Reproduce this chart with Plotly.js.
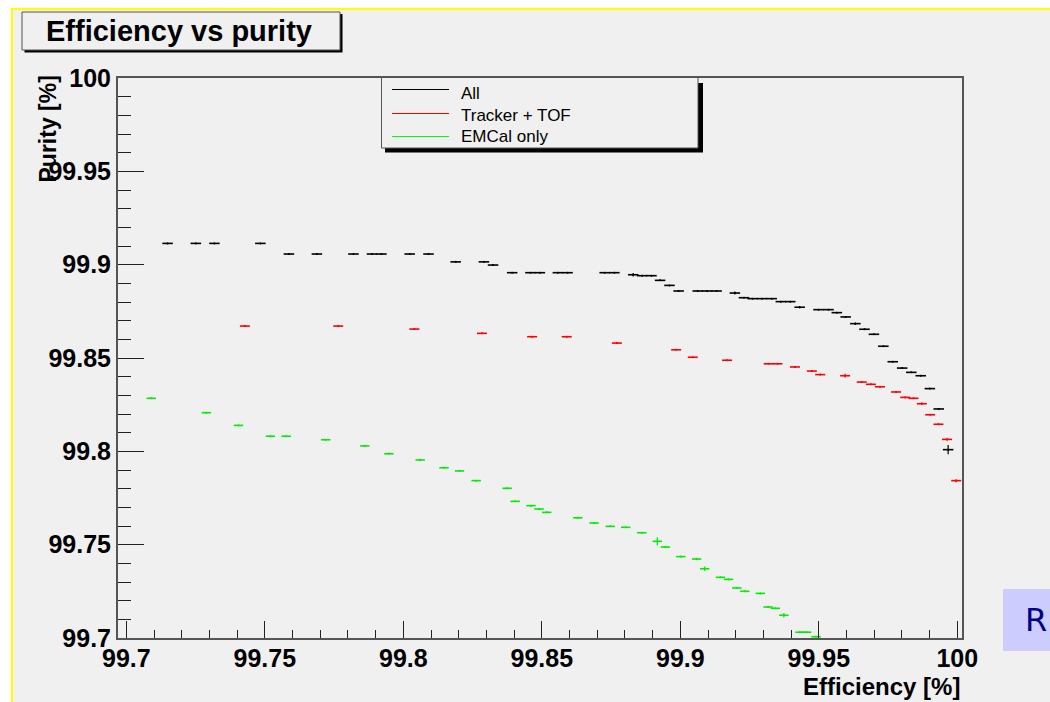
<!DOCTYPE html>
<html>
<head>
<meta charset="utf-8">
<script src="https://cdn.plot.ly/plotly-3.0.1.min.js"></script>
<style>html,body{margin:0;padding:0;background:#fff;}#chart{width:1050px;height:702px;}</style>
</head>
<body>
<div id="chart"></div>
<script>
// ---- data ----
const allEff = [99.7149,99.7251,99.7318,99.7484,99.7587,99.7688,99.7820,99.7887,99.7921,99.8023,
  99.8091,99.8189,99.8291,99.8324,99.8393,99.8459,99.8493,99.8558,99.8593,99.8727,
  99.8762,99.8830,99.8862,99.8896,99.8927,99.8961,99.8994,99.9063,99.9097,99.9131,
  99.9197,99.9230,99.9261,99.9295,99.9330,99.9363,99.9397,99.9431,99.9499,99.9535,
  99.9565,99.9597,99.9632,99.9665,99.9699,99.9733,99.9767,99.9801,99.9834,99.9868,
  99.9901,99.9933,99.9967];
const allPur = [99.9114,99.9114,99.9114,99.9114,99.9057,99.9057,99.9057,99.9057,99.9057,99.9057,
  99.9057,99.9015,99.9015,99.8998,99.8957,99.8957,99.8957,99.8957,99.8957,99.8957,
  99.8957,99.8946,99.8941,99.8941,99.8916,99.8889,99.8859,99.8859,99.8859,99.8859,
  99.8848,99.8823,99.8818,99.8818,99.8818,99.8802,99.8802,99.8772,99.8759,99.8759,
  99.8743,99.8720,99.8684,99.8654,99.8627,99.8563,99.8480,99.8446,99.8423,99.8405,
  99.8336,99.8227,99.8009];
const allPurErr = [0.0003,0.0003,0.0003,0.0003,0.0003,0.0003,0.0003,0.0003,0.0003,0.0003,
  0.0003,0.0003,0.0003,0.0003,0.0003,0.0003,0.0003,0.0003,0.0003,0.0003,
  0.0003,0.0010,0.0003,0.0003,0.0003,0.0003,0.0003,0.0003,0.0003,0.0003,
  0.0008,0.0003,0.0003,0.0003,0.0003,0.0003,0.0003,0.0006,0.0003,0.0003,
  0.0003,0.0003,0.0006,0.0004,0.0003,0.0003,0.0003,0.0003,0.0003,0.0003,
  0.0003,0.0003,0.0025];
const allEffErr = 0.0019;

const tofEff = [99.7428,99.7765,99.8040,99.8284,99.8465,99.8590,99.8771,99.8985,99.9045,99.9169,
  99.9319,99.9351,99.9414,99.9475,99.9505,99.9595,99.9655,99.9688,99.9721,99.9779,
  99.9812,99.9842,99.9872,99.9902,99.9932,99.9963,99.9996];
const tofPur = [99.8671,99.8671,99.8655,99.8632,99.8614,99.8614,99.8580,99.8544,99.8504,99.8488,
  99.8469,99.8469,99.8452,99.8430,99.8411,99.8405,99.8371,99.8359,99.8346,99.8318,
  99.8289,99.8284,99.8255,99.8196,99.8145,99.8064,99.7843];
const tofPurErr = [0.0003,0.0003,0.0003,0.0003,0.0003,0.0003,0.0003,0.0003,0.0003,0.0003,
  0.0003,0.0003,0.0003,0.0003,0.0003,0.0010,0.0004,0.0003,0.0004,0.0003,
  0.0003,0.0003,0.0006,0.0003,0.0004,0.0006,0.0008];
const tofEffErr = 0.0018;

const emcEff = [99.7090,99.7289,99.7405,99.7520,99.7577,99.7720,99.7861,99.7948,99.8061,99.8147,
  99.8203,99.8263,99.8375,99.8404,99.8461,99.8490,99.8518,99.8630,99.8689,99.8747,
  99.8803,99.8861,99.8917,99.8946,99.9002,99.9059,99.9088,99.9145,99.9174,99.9204,
  99.9233,99.9289,99.9317,99.9343,99.9374,99.9432,99.9456,99.9490];
const emcPur = [99.8284,99.8207,99.8139,99.8081,99.8081,99.8062,99.8029,99.7987,99.7954,99.7912,
  99.7895,99.7843,99.7802,99.7732,99.7709,99.7691,99.7673,99.7644,99.7616,99.7598,
  99.7593,99.7564,99.7518,99.7487,99.7436,99.7423,99.7371,99.7325,99.7314,99.7268,
  99.7250,99.7239,99.7166,99.7159,99.7122,99.7031,99.7031,99.7007];
const emcPurErr = [0.0003,0.0003,0.0003,0.0003,0.0003,0.0003,0.0003,0.0003,0.0003,0.0003,
  0.0003,0.0003,0.0003,0.0003,0.0003,0.0003,0.0003,0.0004,0.0003,0.0003,
  0.0003,0.0003,0.0022,0.0005,0.0003,0.0006,0.0012,0.0003,0.0004,0.0003,
  0.0003,0.0004,0.0004,0.0003,0.0012,0.0003,0.0003,0.0003];
const emcEffErr = 0.0017;

const seriesNames = ["All", "Tracker + TOF", "EMCal only"];
const seriesColors = ["#000000", "#ff0000", "#00ee00"];
const legendColors = ["#000000", "#ff0000", "#00ff00"];
const chartTitle = "Efficiency vs purity";
const xTitle = "Efficiency [%]";
const yTitle = "Purity [%]";

// ---- layout helpers (pixel -> paper) ----
const W = 1050, H = 702, ML = 118, MR = 88, MT = 78, MB = 64;
const PW = W - ML - MR, PH = H - MT - MB;
const px = x => (x - ML) / PW;
const py = y => 1 - (y - MT) / PH;
const FONT = "Liberation Sans, Arial, Helvetica, sans-serif";

function series(x, y, ex, ey, i) {
  return {
    type: "scatter", mode: "markers", name: seriesNames[i], x: x, y: y,
    marker: {size: 2, color: seriesColors[i]},
    error_x: {type: "constant", value: ex, color: seriesColors[i], thickness: 1.6, width: 0},
    error_y: {type: "data", array: ey, color: seriesColors[i], thickness: 1.2, width: 0},
    showlegend: false, cliponaxis: true, hoverinfo: "x+y"
  };
}
const traces = [
  series(allEff, allPur, allEffErr, allPurErr, 0),
  series(tofEff, tofPur, tofEffErr, tofPurErr, 1),
  series(emcEff, emcPur, emcEffErr, emcPurErr, 2)
];

const rect = (x0, y0, x1, y1, fill, lc, lw, layer) => ({
  type: "rect", xref: "paper", yref: "paper", x0: px(x0), x1: px(x1), y0: py(y0), y1: py(y1),
  fillcolor: fill, line: {color: lc || "rgba(0,0,0,0)", width: lw || 0}, layer: layer || "below"
});
const line = (x0, y0, x1, y1, c, w, layer) => ({
  type: "line", xref: "paper", yref: "paper", x0: px(x0), x1: px(x1), y0: py(y0), y1: py(y1),
  line: {color: c, width: w}, layer: layer || "above"
});

const shapes = [
  rect(12, 9, 1060, 712, "#f0f0f0", null, 0, "below"),
  line(12, 8, 12, 712, "#ffff00", 2, "below"),
  line(11, 9, 1060, 9, "#ffff00", 2, "below"),
  // title box with shadow
  rect(24.5, 14, 342.5, 52.5, "#000000", null, 0, "above"),
  rect(22, 12, 340, 50, "#f0f0f0", "#555555", 1, "above"),
  // legend box with shadow
  rect(385, 83, 703, 152.5, "#000000", null, 0, "above"),
  rect(381.5, 77.5, 698, 148, "#f0f0f0", "#555555", 1, "above"),
  line(392, 89.5, 449, 89.5, legendColors[0], 1.2, "above"),
  line(392, 113.5, 449, 113.5, legendColors[1], 1.2, "above"),
  line(392, 136.5, 449, 136.5, legendColors[2], 1.2, "above"),
  // "R" badge at the right edge
  rect(1003, 589, 1060, 651, "#ccccff", null, 0, "above")
];

const ann = (text, x, y, opts) => Object.assign({
  text: text, xref: "paper", yref: "paper", x: px(x), y: py(y), showarrow: false,
  font: {family: FONT, size: 17, color: "#000"}, xanchor: "left", yanchor: "middle"
}, opts || {});

const annotations = [
  ann(seriesNames[0], 459, 93),
  ann(seriesNames[1], 459, 116),
  ann(seriesNames[2], 459, 137),
  ann(yTitle, 47, 74, {textangle: -90, xanchor: "center", yanchor: "top",
    font: {family: FONT, size: 23, color: "#000", weight: "bold"}}),
  ann(xTitle, 962, 686.5, {xanchor: "right", yanchor: "middle",
    font: {family: FONT, size: 24, color: "#000", weight: "bold"}}),
  ann("R", 1036, 620, {xanchor: "center", yanchor: "middle",
    font: {family: "DejaVu Sans, sans-serif", size: 32, color: "#000088"}})
];

const axisCommon = {
  showline: true, linecolor: "#555555", linewidth: 2, mirror: true,
  showgrid: false, zeroline: false, ticks: "inside", tickcolor: "#222", tickwidth: 1,
  tickfont: {family: FONT, size: 25, color: "#000", weight: "bold"},
  tickmode: "linear", tick0: 99.7, dtick: 0.05
};

const layout = {
  width: W, height: H,
  margin: {l: ML, r: MR, t: MT, b: MB, pad: 0},
  paper_bgcolor: "#ffffff", plot_bgcolor: "#f0f0f0",
  font: {family: FONT},
  title: {text: chartTitle, xref: "container", yref: "container",
    x: 179 / W, xanchor: "center", y: 1 - 31 / H, yanchor: "middle",
    font: {family: FONT, size: 29, color: "#000", weight: "bold"}},
  xaxis: Object.assign({}, axisCommon, {
    range: [99.697, 100.0017], ticklen: 17, ticklabelstandoff: -3,
    minor: {ticks: "inside", ticklen: 8, dtick: 0.01, tick0: 99.7, tickcolor: "#222", showgrid: false}
  }),
  yaxis: Object.assign({}, axisCommon, {
    range: [99.7, 100], ticklen: 26,
    minor: {ticks: "inside", ticklen: 13, dtick: 0.01, tick0: 99.7, tickcolor: "#222", showgrid: false}
  }),
  shapes: shapes,
  annotations: annotations,
  showlegend: false
};

Plotly.newPlot("chart", traces, layout, {displayModeBar: false, staticPlot: true});
</script>
</body>
</html>
